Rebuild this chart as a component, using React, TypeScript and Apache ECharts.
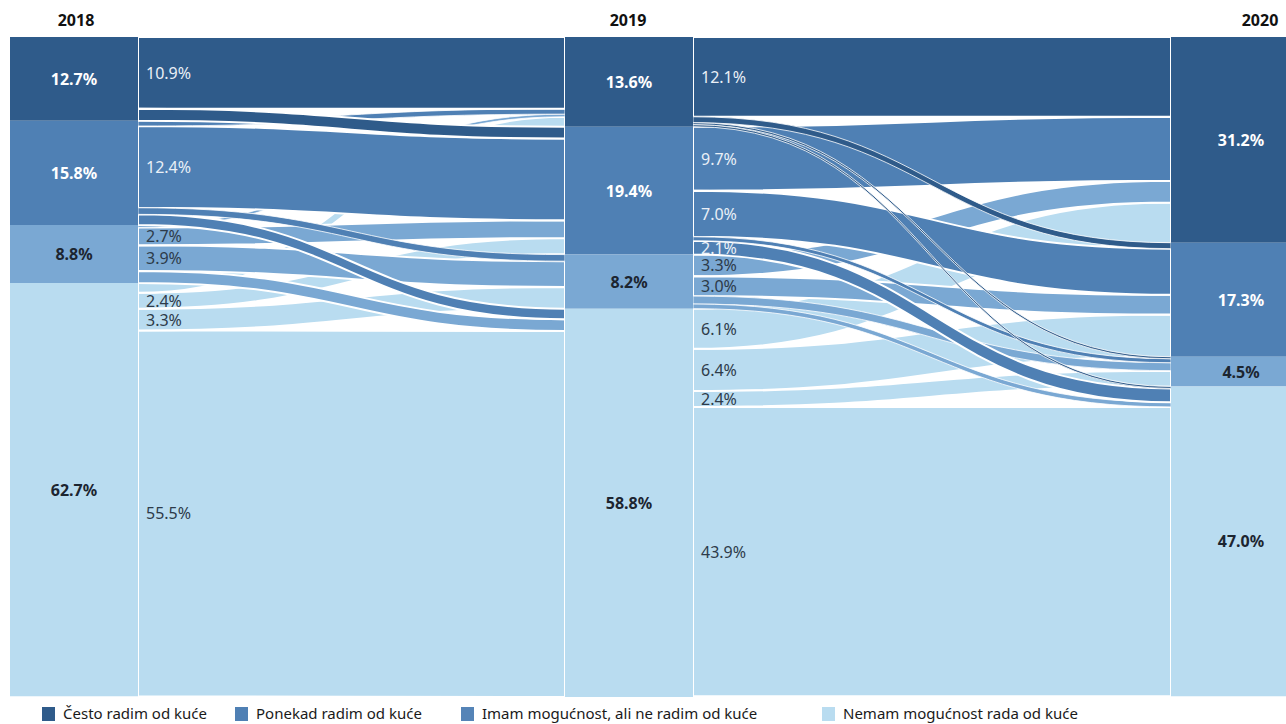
import React, { useEffect, useRef } from "react";
import * as echarts from "echarts";

const years = ["2018", "2019", "2020"];
const categories = [
  "Često radim od kuće",
  "Ponekad radim od kuće",
  "Imam mogućnost, ali ne radim od kuće",
  "Nemam mogućnost rada od kuće",
];
const shares2018 = [12.7, 15.8, 8.8, 62.7];
const shares2019 = [13.6, 19.4, 8.2, 58.8];
const shares2020 = [31.2, 17.3, 4.5, 47.0];
// rows: category in the earlier year, columns: category in the later year
const flows2018to2019 = [
  [10.9, 1.8, 0, 0],
  [0.8, 12.4, 1.0, 1.6],
  [0.4, 2.7, 3.9, 1.8],
  [1.5, 2.4, 3.3, 55.5],
];
const flows2019to2020 = [
  [12.1, 0.9, 0.3, 0.3],
  [9.7, 7.0, 0.6, 2.1],
  [3.3, 3.0, 1.2, 0.7],
  [6.1, 6.4, 2.4, 43.9],
];
const labelledMin = 2.0; // flows shown with a percentage label

const colors = ["#2f5b8a", "#4f80b4", "#7aa8d3", "#b9dcf0"];
const legendColors = ["#2f5b8a", "#4f80b4", "#5584b7", "#b9dcf0"];

const W = 1286;
const H = 724;
const LEFT = 10;
const TOP = 37;
const RIGHT = 0;
const BOTTOM = 27;
const NODE_W = 128;
const columnX = [10, 565, 1171];
const yearTitleX = [76, 628, 1260];
const legendX = [42, 235, 461, 822];

const shares = [shares2018, shares2019, shares2020];
const flows = [flows2018to2019, flows2019to2020];

function nodeName(yi: number, ci: number) {
  return categories[ci] + " " + years[yi];
}

function buildOption() {
  const layoutW = W - LEFT - RIGHT;
  const layoutH = H - TOP - BOTTOM;

  const nodes: any[] = [];
  years.forEach((_, yi) => {
    categories.forEach((_, ci) => {
      nodes.push({
        name: nodeName(yi, ci),
        value: shares[yi][ci],
        localX: (columnX[yi] - LEFT) / layoutW,
        itemStyle: { color: colors[ci], borderWidth: 0 },
        label: {
          formatter: shares[yi][ci].toFixed(1) + "%",
          color: ci < 2 ? "#ffffff" : "#1c2530",
          offset: yi === 2 ? [6, 0] : [0, 0],
        },
      });
    });
  });

  const links: any[] = [];
  flows.forEach((m, fi) => {
    m.forEach((row, i) => {
      row.forEach((v, j) => {
        if (v > 0) {
          links.push({
            source: nodeName(fi, i),
            target: nodeName(fi + 1, j),
            value: v,
            srcIndex: i,
            lineStyle: { borderWidth: v >= 1.5 ? 2 : 0.8 },
          });
        }
      });
    });
  });
  // flows from lower categories are drawn first, those from upper ones on top
  links.sort((a, b) => b.srcIndex - a.srcIndex || b.value - a.value);

  // replicate sankey vertical layout (nodeGap 0, no iterations) for link labels
  const nodeVal = years.map((_, yi) =>
    categories.map((_, ci) => {
      const outS = yi < 2 ? flows[yi][ci].reduce((a, b) => a + b, 0) : 0;
      const inS = yi > 0 ? flows[yi - 1].reduce((a, r) => a + r[ci], 0) : 0;
      return Math.max(shares[yi][ci], outS, inS);
    })
  );
  const k = Math.min(
    ...nodeVal.map((col) => layoutH / col.reduce((a, b) => a + b, 0))
  );
  const nodeY = nodeVal.map((col) => {
    let acc = 0;
    return col.map((v) => {
      const y = acc;
      acc += v * k;
      return y;
    });
  });

  const graphics: any[] = [];
  flows.forEach((m, fi) => {
    m.forEach((row, i) => {
      let sy = 0;
      row.forEach((v, j) => {
        if (v >= labelledMin) {
          graphics.push({
            type: "text",
            z: 100,
            silent: true,
            x: columnX[fi] + NODE_W + 8,
            y: TOP + nodeY[fi][i] + sy + (v * k) / 2,
            style: {
              text: v.toFixed(1) + "%",
              fill: i < 2 ? "#eaf0f7" : "#2d3b4a",
              font: 'normal 16px "Noto Sans"',
              align: "left",
              verticalAlign: "middle",
            },
          });
        }
        sy += v * k;
      });
    });
  });

  years.forEach((y, yi) => {
    graphics.push({
      type: "text",
      z: 100,
      silent: true,
      x: yearTitleX[yi],
      y: 20,
      style: {
        text: y,
        fill: "#111111",
        font: 'bold 16px "Noto Sans"',
        align: "center",
        verticalAlign: "middle",
      },
    });
  });

  categories.forEach((c, ci) => {
    graphics.push({
      type: "rect",
      z: 100,
      silent: true,
      shape: { x: legendX[ci], y: 707, width: 13, height: 14 },
      style: { fill: legendColors[ci] },
    });
    graphics.push({
      type: "text",
      z: 100,
      silent: true,
      x: legendX[ci] + 21,
      y: 713,
      style: {
        text: c,
        fill: "#1a1a1a",
        font: 'normal 15px "Noto Sans"',
        align: "left",
        verticalAlign: "middle",
      },
    });
  });

  return {
    animation: false,
    backgroundColor: "#ffffff",
    graphic: graphics,
    series: [
      {
        type: "sankey",
        left: LEFT,
        top: TOP,
        right: RIGHT,
        bottom: BOTTOM,
        nodeWidth: NODE_W,
        nodeGap: 0,
        layoutIterations: 0,
        draggable: false,
        silent: true,
        emphasis: { focus: "none", disabled: true },
        data: nodes,
        links: links,
        label: {
          show: true,
          position: "inside",
          fontFamily: "Noto Sans",
          fontWeight: "bold",
          fontSize: 16,
        },
        lineStyle: {
          color: "source",
          opacity: 1,
          curveness: 0.5,
          borderColor: "#ffffff",
          borderWidth: 1,
        },
      },
    ],
  };
}

export default function App() {
  const ref = useRef<HTMLDivElement>(null);
  useEffect(() => {
    if (!ref.current) return;
    const chart = echarts.init(ref.current, undefined, { renderer: "svg" });
    chart.setOption(buildOption() as any);
    return () => chart.dispose();
  }, []);
  return (
    <div
      ref={ref}
      style={{ position: "fixed", left: 0, top: 0, width: W, height: H }}
    />
  );
}
